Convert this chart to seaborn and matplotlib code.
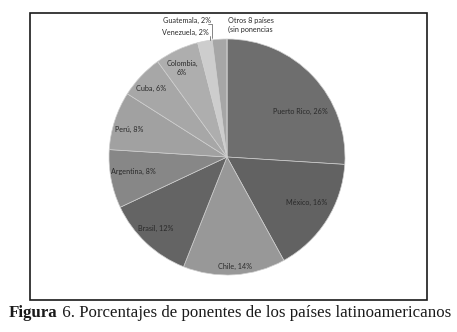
import matplotlib
matplotlib.use("Agg")
import matplotlib.pyplot as plt
import seaborn as sns
from matplotlib.patches import Rectangle

# ---- data ----
countries = ["Puerto Rico", "México", "Chile", "Brasil", "Argentina", "Perú",
             "Cuba", "Colombia", "Venezuela", "Guatemala", "Otros 8 países\n(sin ponencias"]
values = [26, 16, 14, 12, 8, 8, 6, 6, 2, 2, 0]
label_texts = ["Puerto Rico, 26%", "México, 16%", "Chile, 14%", "Brasil, 12%",
               "Argentina, 8%", "Perú, 8%", "Cuba, 6%", "Colombia,\n6%",
               "Venezuela, 2%", "Guatemala, 2%", "Otros 8 países\n(sin ponencias"]
gray_hex = ["#6e6e6e", "#626262", "#989898", "#646464", "#878787", "#a1a1a1",
            "#a7a7a7", "#aeaeae", "#cdcdcd", "#a6a6a6", "#a6a6a6"]
caption_bold = "Figura"
caption_rest = " 6. Porcentajes de ponentes de los países latinoamericanos"

sns.set_theme(style="white")
plt.rcParams['font.family'] = ['Lato', 'DejaVu Sans']

W, H = 457, 332
fig = plt.figure(figsize=(W / 100, H / 100), dpi=100)
fig.patch.set_facecolor("white")

# pie axes: center (227,157) px, radius 118 px
cx, cy, r = 227, 157, 118
ax = fig.add_axes([(cx - r) / W, (H - cy - r) / H, 2 * r / W, 2 * r / H])
colors = sns.color_palette(gray_hex)
wedges, texts = ax.pie(values, labels=label_texts, colors=colors, startangle=90,
                       counterclock=False,
                       wedgeprops=dict(edgecolor="#cfcfcf", linewidth=0.5),
                       textprops=dict(fontsize=5.2, color="#2a2a2a"))
ax.set_xlim(-1, 1)
ax.set_ylim(-1, 1)
ax.set_aspect("equal")
ax.axis("off")

def px2data(px, py):
    return (px - cx) / r, (cy - py) / r

# label positions in pixels (center) and alignment
label_pos = [(300, 111, "center"), (307, 202, "center"), (235, 266, "center"),
             (156, 228, "center"), (133, 171, "center"), (129, 129, "center"),
             (151, 88, "center"), (182, 68, "center"), (185, 32, "center"),
             (187, 20, "center"), (228, 25, "left")]
for t, (px, py, ha) in zip(texts, label_pos):
    t.set_position(px2data(px, py))
    t.set_ha(ha)
    t.set_va("center")
    t.set_multialignment("center" if ha == "center" else "left")
    t.set_linespacing(1.3)

# leader lines
lx, ly = zip(px2data(208, 24), px2data(212, 24), px2data(212, 38))
ax.plot(lx, ly, color="#555555", lw=0.5, clip_on=False)
lx, ly = zip(px2data(210, 36), px2data(210, 40))
ax.plot(lx, ly, color="#555555", lw=0.5, clip_on=False)

# outer frame
fig.patches.append(Rectangle((30 / W, 1 - 300 / H), (427 - 30) / W, (300 - 13) / H,
                             transform=fig.transFigure, fill=False,
                             edgecolor="#1a1a1a", linewidth=1.2))

# caption
t1 = fig.text(9 / W, 1 - 313 / H, caption_bold, fontsize=12.2, fontweight="bold",
              family=["Liberation Serif", "DejaVu Serif"], color="#1a1a1a",
              ha="left", va="center")
fig.canvas.draw()
bb = t1.get_window_extent()
fig.text(bb.x1 / W, 1 - 313 / H, caption_rest, fontsize=12.2,
         family=["Liberation Serif", "DejaVu Serif"], color="#1a1a1a",
         ha="left", va="center")

fig.savefig("out.png", dpi=100, facecolor="white")
